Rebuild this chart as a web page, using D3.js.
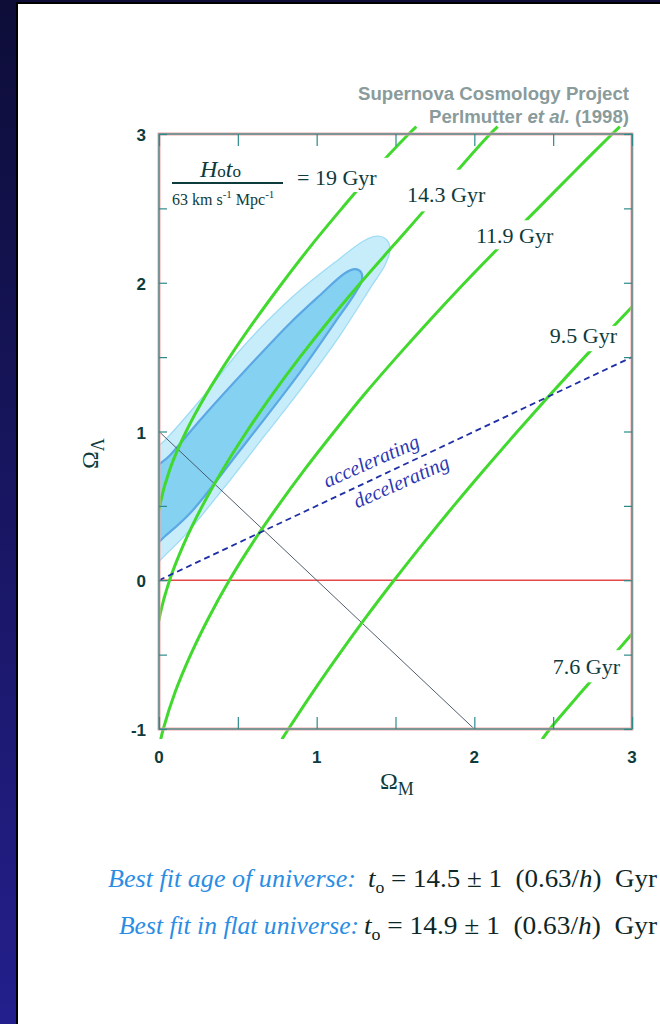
<!DOCTYPE html>
<html><head><meta charset="utf-8">
<script src="https://cdn.jsdelivr.net/npm/d3@7"></script>
<style>
html,body{margin:0;padding:0;background:#14135a;}
svg{display:block;}
.serif{font-family:"Liberation Serif","Times New Roman",serif;}
.sans{font-family:"Liberation Sans",Arial,sans-serif;}
</style></head><body>
<svg id="chart" width="660" height="1024"></svg>
<script>
// ---------- data (Ω_M, Ω_Λ) ----------
const xTickValues = [0, 0.5, 1, 1.5, 2, 2.5, 3];
const yTickValues = [-1, -0.5, 0, 0.5, 1, 1.5, 2, 2.5, 3];
const xTickLabels = ["0", "1", "2", "3"];
const xTickLabelValues = [0, 1, 2, 3];
const yTickLabels = ["-1", "0", "1", "2", "3"];
const yTickLabelValues = [-1, 0, 1, 2, 3];

// iso-age curves, H0 t0 / (63 km s^-1 Mpc^-1)
const ageNames = ["19 Gyr", "14.3 Gyr", "11.9 Gyr", "9.5 Gyr", "7.6 Gyr"];
const age19 = [[0,0.469],[0.004,0.5],[0.070,0.75],[0.172,1.0],[0.300,1.25],[0.448,1.5],[0.610,1.75],[0.783,2.0],[0.965,2.25],[1.160,2.5],[1.362,2.75],[1.584,3.0],[1.632,3.05]];
const age14_3 = [[0,-0.274],[0.003,-0.25],[0.067,0],[0.160,0.25],[0.275,0.5],[0.408,0.75],[0.557,1.0],[0.719,1.25],[0.894,1.5],[1.081,1.75],[1.279,2.0],[1.486,2.25],[1.693,2.5],[1.890,2.75],[2.100,3.0],[2.148,3.05]];
const age11_9 = [[0.011,-1.07],[0.027,-1],[0.103,-0.75],[0.201,-0.5],[0.316,-0.25],[0.446,0],[0.593,0.25],[0.755,0.5],[0.928,0.75],[1.112,1.0],[1.303,1.25],[1.507,1.5],[1.719,1.75],[1.939,2.0],[2.168,2.25],[2.404,2.5],[2.637,2.75],[2.874,3.0],[2.923,3.05]];
const age9_5 = [[0.779,-1.07],[0.821,-1],[0.977,-0.75],[1.141,-0.5],[1.312,-0.25],[1.491,0],[1.677,0.25],[1.869,0.5],[2.068,0.75],[2.273,1.0],[2.483,1.25],[2.699,1.5],[2.921,1.75],[3.148,2.0]];
const age7_6 = [[2.430,-1.07],[2.479,-1],[2.680,-0.75],[2.886,-0.5],[3.090,-0.25]];
const ageCurves = [age19, age14_3, age11_9, age9_5, age7_6];
// Ω_Λ interval where each curve is interrupted by its label
const ageGaps = [[2.61,2.84],[2.48,2.76],[2.225,2.42],[1.54,1.71],[-0.686,-0.47]];

// confidence regions
const contourOuter = [[-0.057,0.081],[0.038,0.168],[0.165,0.303],[0.450,0.672],[0.672,0.975],[0.894,1.277],[1.148,1.647],[1.351,1.983],[1.433,2.118],[1.465,2.218],[1.446,2.286],[1.389,2.313],[1.306,2.286],[1.116,2.138],[0.894,1.950],[0.704,1.761],[0.514,1.546],[0.260,1.210],[0.038,0.941],[-0.057,0.840]];
const contourInner = [[-0.057,0.215],[0.038,0.296],[0.197,0.450],[0.514,0.874],[0.894,1.398],[1.116,1.734],[1.243,1.929],[1.287,2.017],[1.281,2.071],[1.243,2.091],[1.179,2.064],[1.021,1.916],[0.831,1.728],[0.577,1.445],[0.260,1.076],[0.070,0.840],[-0.057,0.706]];

const flatUniverse = [[0,1],[2,-1]];        // Ω_M + Ω_Λ = 1
const accelBoundary = [[0,0],[3,1.5]];      // q0 = 0

// ---------- layout ----------
const W = 660, H = 1024;
const x = d3.scaleLinear().domain([0,3]).range([159,632]);
const y = d3.scaleLinear().domain([-1,3]).range([729,134]);
const frameCol = "#2c8a8a", ghostCol = "#f2a6a6", inkCol = "#0e3b3c";

const svg = d3.select("#chart").attr("viewBox",`0 0 ${W} ${H}`);
const defs = svg.append("defs");
const bg = defs.append("linearGradient").attr("id","bg").attr("x1",0).attr("y1",0).attr("x2",0).attr("y2",1);
bg.append("stop").attr("offset",0).attr("stop-color","#0d0d38");
bg.append("stop").attr("offset",1).attr("stop-color","#231f8c");

svg.append("rect").attr("width",W).attr("height",H).attr("fill","url(#bg)");
svg.append("rect").attr("x",16).attr("y",2).attr("width",W-16).attr("height",H-2).attr("fill","#000");
svg.append("rect").attr("x",18).attr("y",4).attr("width",W-18).attr("height",H-4).attr("fill","#fff");

// clip regions
defs.append("clipPath").attr("id","plotClip").append("rect")
  .attr("x",x(0)).attr("y",y(3)).attr("width",x(3)-x(0)).attr("height",y(-1)-y(3));
defs.append("clipPath").attr("id","curveClip").append("rect")
  .attr("x",x(0)).attr("y",y(3)-10).attr("width",x(3)-x(0)).attr("height",y(-1)-y(3)+20);

const pt = d3.line().x(d=>x(d[0])).y(d=>y(d[1]));

// confidence regions
const reg = svg.append("g").attr("clip-path","url(#plotClip)");
const closed = d3.line().x(d=>x(d[0])).y(d=>y(d[1])).curve(d3.curveCatmullRomClosed.alpha(0.5));
reg.append("path").attr("d",closed(contourOuter)).attr("fill","#c8edfa").attr("stroke","#9edcf4").attr("stroke-width",1.3);
reg.append("path").attr("d",closed(contourInner)).attr("fill","#85d1f2").attr("stroke","#5ba8e4").attr("stroke-width",2.2);

// zero line and flat-universe line
svg.append("line").attr("x1",x(0)).attr("x2",x(3)).attr("y1",y(0)).attr("y2",y(0))
  .attr("stroke","#e54848").attr("stroke-width",1.3);
svg.append("path").attr("d",pt(flatUniverse)).attr("fill","none").attr("stroke","#3d4d5d").attr("stroke-width",0.9);

// iso-age curves
const smooth = d3.line().x(d=>x(d[0])).y(d=>y(d[1])).curve(d3.curveCatmullRom.alpha(0.5));
const ages = svg.append("g").attr("clip-path","url(#curveClip)");
ageCurves.forEach((c,i)=>{
  const m = defs.append("mask").attr("id","gap"+i).attr("maskUnits","userSpaceOnUse")
    .attr("x",0).attr("y",0).attr("width",W).attr("height",H);
  m.append("rect").attr("width",W).attr("height",H).attr("fill","#fff");
  m.append("rect").attr("x",0).attr("width",W)
    .attr("y",y(ageGaps[i][1])).attr("height",y(ageGaps[i][0])-y(ageGaps[i][1])).attr("fill","#000");
  ages.append("g").attr("mask",`url(#gap${i})`).append("path")
    .attr("d",smooth(c)).attr("fill","none").attr("stroke","#42d92f").attr("stroke-width",3);
});

// accelerating / decelerating boundary
svg.append("path").attr("d",pt(accelBoundary)).attr("fill","none").attr("clip-path","url(#plotClip)")
  .attr("stroke","#1f2fa6").attr("stroke-width",1.8).attr("stroke-dasharray","6,4");
const ang = Math.atan2(y(1.5)-y(0), x(3)-x(0))*180/Math.PI;
[["accelerating",1.39,-10.5],["decelerating",1.50,21]].forEach(([t,m,dy])=>{
  svg.append("text").attr("class","serif").attr("font-style","italic").attr("font-size",20.5)
    .attr("fill","#2a38b2").attr("text-anchor","middle")
    .attr("transform",`translate(${x(m)},${y(m/2)}) rotate(${ang+1.5})`).attr("y",dy).text(t);
});

// frame with ticks
const fr = svg.append("g");
fr.append("rect").attr("x",x(0)).attr("y",y(3)).attr("width",x(3)-x(0)).attr("height",y(-1)-y(3))
  .attr("fill","none").attr("stroke",ghostCol).attr("stroke-width",3);
fr.append("rect").attr("x",x(0)).attr("y",y(3)).attr("width",x(3)-x(0)).attr("height",y(-1)-y(3))
  .attr("fill","none").attr("stroke",frameCol).attr("stroke-width",1.2);
const axes = [
  [d3.axisBottom(x).tickValues(xTickValues).tickSize(-12), `translate(0,${y(-1)})`],
  [d3.axisTop(x).tickValues(xTickValues).tickSize(-12), `translate(0,${y(3)})`],
  [d3.axisLeft(y).tickValues(yTickValues).tickSize(-8), `translate(${x(0)},0)`],
  [d3.axisRight(y).tickValues(yTickValues).tickSize(-8), `translate(${x(3)},0)`]
];
axes.forEach(([ax,tr])=>{
  const g = fr.append("g").attr("transform",tr).call(ax.tickFormat(""));
  g.select(".domain").remove();
  g.selectAll(".tick line").attr("stroke",frameCol).attr("stroke-width",1.2);
});

// tick labels
svg.append("g").selectAll("text").data(xTickLabels).join("text").attr("class","sans")
  .attr("font-size",17).attr("font-weight","bold").attr("fill",inkCol).attr("text-anchor","middle")
  .attr("x",(d,i)=>x(xTickLabelValues[i])).attr("y",y(-1)+34).text(d=>d);
svg.append("g").selectAll("text").data(yTickLabels).join("text").attr("class","sans")
  .attr("font-size",17).attr("font-weight","bold").attr("fill",inkCol).attr("text-anchor","end")
  .attr("x",x(0)-13).attr("y",(d,i)=>y(yTickLabelValues[i])+7).text(d=>d);

// axis titles
const xt = svg.append("text").attr("class","serif").attr("fill",inkCol).attr("x",380).attr("y",789).attr("font-size",24);
xt.append("tspan").text("Ω");
xt.append("tspan").attr("font-size",18).attr("dy",6).text("M");
const yt = svg.append("text").attr("class","serif").attr("fill",inkCol).attr("font-size",24)
  .attr("transform","translate(98,469) rotate(-90)");
yt.append("tspan").text("Ω");
yt.append("tspan").attr("font-size",18).attr("dy",6).text("Λ");

// curve labels
const labelPos = [null,[1.573,2.541],[2.010,2.266],[2.479,1.593],[2.498,-0.632]];
ageNames.forEach((t,i)=>{
  if(!labelPos[i]) return;
  svg.append("text").attr("class","serif").attr("font-size",22).attr("fill",inkCol)
    .attr("x",x(labelPos[i][0])).attr("y",y(labelPos[i][1])).text(t);
});

// H0 t0 legend
const num = svg.append("text").attr("class","serif").attr("fill",inkCol).attr("x",200).attr("y",177);
num.append("tspan").attr("font-style","italic").attr("font-size",24).text("H");
num.append("tspan").attr("font-size",17).text("o");
num.append("tspan").attr("font-style","italic").attr("font-size",24).text("t");
num.append("tspan").attr("font-size",17).text("o");
svg.append("line").attr("x1",172).attr("x2",283).attr("y1",183).attr("y2",183).attr("stroke",inkCol).attr("stroke-width",1.8);
const den = svg.append("text").attr("class","serif").attr("fill",inkCol).attr("x",172).attr("y",205).attr("font-size",16);
den.append("tspan").text("63 km s");
den.append("tspan").attr("font-size",11).attr("dy",-7).text("-1");
den.append("tspan").attr("dy",7).text(" Mpc");
den.append("tspan").attr("font-size",11).attr("dy",-7).text("-1");
svg.append("text").attr("class","serif").attr("fill",inkCol).attr("font-size",22)
  .attr("x",297).attr("y",185).text("= " + ageNames[0]);

// header
svg.append("text").attr("class","sans").attr("font-weight","bold").attr("font-size",17.5).attr("fill","#8a9b9b")
  .attr("x",629).attr("y",100).attr("text-anchor","end").attr("textLength",271).attr("lengthAdjust","spacingAndGlyphs")
  .text("Supernova Cosmology Project");
const cite = svg.append("text").attr("class","sans").attr("font-weight","bold").attr("font-size",17.5).attr("fill","#8a9b9b")
  .attr("x",629).attr("y",123).attr("text-anchor","end").attr("textLength",200).attr("lengthAdjust","spacingAndGlyphs");
cite.append("tspan").text("Perlmutter ");
cite.append("tspan").attr("font-style","italic").text("et al.");
cite.append("tspan").text(" (1998)");

// best-fit summary
const summary = [
  ["Best fit age of universe:", "14.5", 108, 248, 368, 289, 887],
  ["Best fit in flat universe:", "14.9", 119, 240, 364, 293, 934]
];
summary.forEach(([lead,val,x1,w1,x2,w2,by])=>{
  svg.append("text").attr("class","serif").attr("font-style","italic").attr("font-size",26).attr("fill","#2a8de4")
    .attr("x",x1).attr("y",by).attr("textLength",w1).attr("lengthAdjust","spacingAndGlyphs").text(lead);
  const f = svg.append("text").attr("class","serif").attr("font-size",26).attr("fill","#0d2626")
    .attr("x",x2).attr("y",by).attr("textLength",w2).attr("lengthAdjust","spacingAndGlyphs").style("white-space","pre");
  f.append("tspan").attr("font-style","italic").text("t");
  f.append("tspan").attr("font-size",17).attr("dy",6).text("o");
  f.append("tspan").attr("dy",-6).text(` = ${val} ± 1  (0.63/`);
  f.append("tspan").attr("font-style","italic").text("h");
  f.append("tspan").text(")  Gyr");
});
</script></body></html>
